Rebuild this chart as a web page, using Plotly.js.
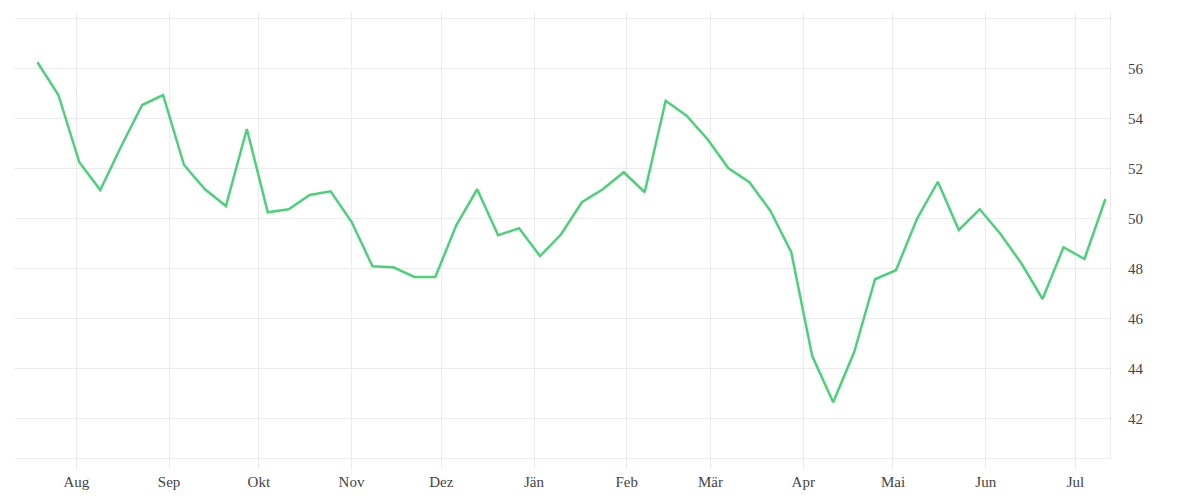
<!DOCTYPE html>
<html>
<head>
<meta charset="utf-8">
<script src="https://cdn.plot.ly/plotly-3.0.1.min.js"></script>
<style>
  html, body { margin: 0; padding: 0; background: #fff; }
  #chart { width: 1200px; height: 500px; }
</style>
</head>
<body>
<div id="chart"></div>
<script>
// weekly values, Jul 2018 - Jul 2019
const weeks = [
    "2018-07-19", "2018-07-26", "2018-08-02", "2018-08-09", "2018-08-16", "2018-08-23",
    "2018-08-30", "2018-09-06", "2018-09-13", "2018-09-20", "2018-09-27", "2018-10-04",
    "2018-10-11", "2018-10-18", "2018-10-25", "2018-11-01", "2018-11-08", "2018-11-15",
    "2018-11-22", "2018-11-29", "2018-12-06", "2018-12-13", "2018-12-20", "2018-12-27",
    "2019-01-03", "2019-01-10", "2019-01-17", "2019-01-24", "2019-01-31", "2019-02-07",
    "2019-02-14", "2019-02-21", "2019-02-28", "2019-03-07", "2019-03-14", "2019-03-21",
    "2019-03-28", "2019-04-04", "2019-04-11", "2019-04-18", "2019-04-25", "2019-05-02",
    "2019-05-09", "2019-05-16", "2019-05-23", "2019-05-30", "2019-06-06", "2019-06-13",
    "2019-06-20", "2019-06-27", "2019-07-04", "2019-07-11"
]
const values = [
    56.24, 54.93, 52.24, 51.13, 52.88, 54.53,
    54.93, 52.13, 51.16, 50.49, 53.57, 50.24,
    50.36, 50.93, 51.08, 49.86, 48.08, 48.04,
    47.65, 47.65, 49.72, 51.16, 49.32, 49.60,
    48.49, 49.35, 50.64, 51.16, 51.84, 51.04,
    54.70, 54.10, 53.16, 52.00, 51.44, 50.30,
    48.64, 44.49, 42.64, 44.64, 47.56, 47.92,
    49.97, 51.46, 49.53, 50.36, 49.36, 48.18,
    46.77, 48.84, 48.37, 50.77
]

const monthTicks = [
    "2018-08-01", "2018-09-01", "2018-10-01", "2018-11-01", "2018-12-01", "2019-01-01",
    "2019-02-01", "2019-03-01", "2019-04-01", "2019-05-01", "2019-06-01", "2019-07-01"
]
const monthNames = ["Aug", "Sep", "Okt", "Nov", "Dez", "Jän", "Feb", "Mär", "Apr", "Mai", "Jun", "Jul"]

const yTicks = [40, 42, 44, 46, 48, 50, 52, 54, 56, 58]
const yLabels = ["", "42", "44", "46", "48", "50", "52", "54", "56", ""]

let gridColor = "#ebebeb"

let data = [{
    x: weeks,
    y: values,
    type: "scatter",
    mode: "lines",
    line: { color: "#4cd17a", width: 2.5 },
    hoverinfo: "skip"
}]

let layout = {
    width: 1200,
    height: 500,
    margin: { l: 15, r: 90, t: 12, b: 42 },
    paper_bgcolor: "#fff",
    plot_bgcolor: "#fff",
    showlegend: false,
    font: { family: "Liberation Serif, serif", size: 15, color: "#444" },
    xaxis: {
        type: "date",
        range: ["2018-07-11 12:00", "2019-07-12 13:00"],
        tickvals: monthTicks,
        ticktext: monthNames,
        showgrid: true,
        gridcolor: gridColor,
        gridwidth: 1,
        showline: true,
        linecolor: gridColor,
        linewidth: 1,
        ticks: "outside",
        ticklen: 10,
        tickcolor: gridColor,
        zeroline: false
    },
    yaxis: {
        side: "right",
        range: [40.41, 58.25],
        tickvals: yTicks,
        ticktext: yLabels,
        showgrid: true,
        gridcolor: gridColor,
        gridwidth: 1,
        showline: true,
        linecolor: gridColor,
        linewidth: 1,
        ticks: "",
        ticklabelstandoff: 14,
        zeroline: false
    }
}

Plotly.newPlot("chart", data, layout, { staticPlot: true, displayModeBar: false })
</script>
</body>
</html>
